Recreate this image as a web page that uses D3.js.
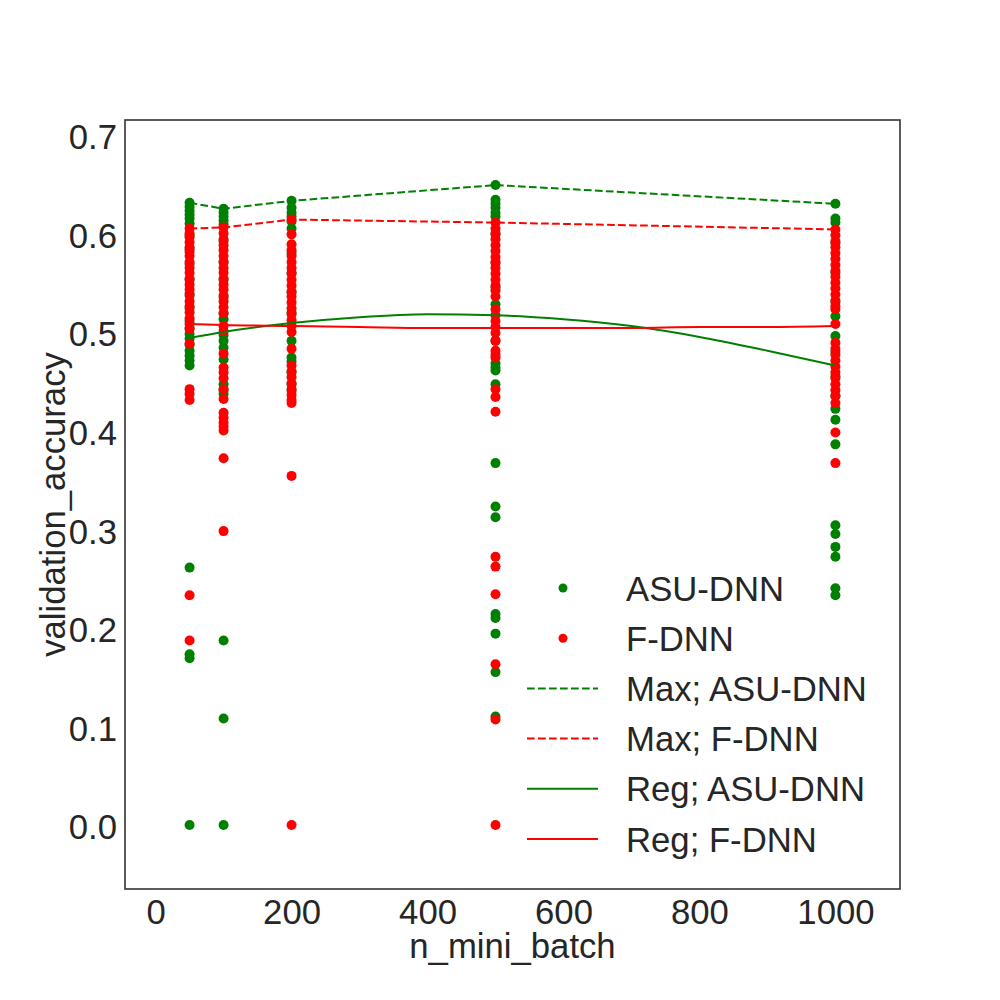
<!DOCTYPE html>
<html>
<head>
<meta charset="utf-8">
<script src="https://cdn.jsdelivr.net/npm/d3@7"></script>
<style>
  body { margin: 0; background: #fff; }
  text { font-family: "Liberation Sans", Arial, sans-serif; fill: #262626; }
</style>
</head>
<body>
<svg width="1000" height="1000"></svg>
<script>
// batch sizes on the x axis
var batchSizes = [50, 100, 200, 500, 1000];

// validation accuracy per batch size
var asuAcc = [
  [0.631,0.627,0.623,0.619,0.615,0.610,0.598,0.584,0.569,0.553,0.539,0.524,0.511,0.504,0.498,0.493,0.487,0.481,0.476,0.471,0.466,0.261,0.173,0.169,0.0],
  [0.625,0.621,0.617,0.613,0.609,0.592,0.571,0.553,0.535,0.519,0.513,0.497,0.491,0.484,0.472,0.447,0.441,0.437,0.187,0.108,0.0],
  [0.633,0.626,0.621,0.617,0.612,0.605,0.580,0.560,0.540,0.520,0.491,0.474,0.470,0.459,0.447,0.440],
  [0.649,0.634,0.630,0.626,0.621,0.617,0.600,0.570,0.545,0.528,0.491,0.468,0.464,0.461,0.447,0.367,0.323,0.312,0.214,0.210,0.194,0.155,0.110],
  [0.630,0.615,0.611,0.590,0.560,0.530,0.516,0.496,0.480,0.455,0.435,0.422,0.411,0.386,0.304,0.295,0.282,0.272,0.240,0.233]
];
var fdnnAcc = [
  [0.605,0.600,0.596,0.591,0.586,0.581,0.577,0.571,0.565,0.560,0.554,0.548,0.543,0.537,0.531,0.526,0.520,0.514,0.508,0.503,0.488,0.442,0.437,0.431,0.233,0.187],
  [0.606,0.600,0.594,0.588,0.583,0.577,0.571,0.565,0.560,0.554,0.548,0.543,0.537,0.531,0.525,0.519,0.506,0.501,0.478,0.464,0.459,0.453,0.442,0.432,0.418,0.413,0.408,0.404,0.400,0.372,0.298],
  [0.614,0.599,0.589,0.583,0.577,0.571,0.565,0.559,0.553,0.547,0.541,0.536,0.530,0.524,0.518,0.512,0.506,0.500,0.483,0.466,0.460,0.454,0.448,0.442,0.436,0.431,0.428,0.354,0.0],
  [0.611,0.605,0.599,0.594,0.588,0.582,0.576,0.571,0.565,0.559,0.553,0.547,0.542,0.536,0.523,0.517,0.511,0.505,0.499,0.491,0.481,0.477,0.474,0.442,0.434,0.419,0.272,0.262,0.234,0.163,0.107,0.0],
  [0.604,0.598,0.592,0.586,0.580,0.574,0.568,0.562,0.556,0.550,0.544,0.538,0.532,0.526,0.523,0.508,0.489,0.483,0.477,0.471,0.465,0.459,0.453,0.447,0.441,0.435,0.428,0.398,0.367]
];

// regression curves
var regX = [50, 100, 200, 300, 400, 500, 600, 700, 800, 900, 1000];
var regAsu = [0.494, 0.500, 0.509, 0.515, 0.518, 0.517, 0.513, 0.506, 0.495, 0.481, 0.466];
var regFdnn = [0.508, 0.507, 0.506, 0.505, 0.504, 0.504, 0.504, 0.504, 0.505, 0.505, 0.506];

var xTicks = [0, 200, 400, 600, 800, 1000];
var yTicks = [0.0, 0.1, 0.2, 0.3, 0.4, 0.5, 0.6, 0.7];

var svg = d3.select('svg'),
    mLeft = 125, mRight = 900, mTop = 120, mBottom = 889;

var x = d3.scaleLinear().domain([-45, 1095]).range([mLeft, mRight]),
    y = d3.scaleLinear().domain([-0.065, 0.715]).range([mBottom, mTop]);

function flatten(acc) {
  var out = [];
  acc.forEach(function(col, i) {
    col.forEach(function(v) { out.push({x: batchSizes[i], y: v}); });
  });
  return out;
}

var g = svg.append('g');

// scatter
g.selectAll('circle.asu')
  .data(flatten(asuAcc))
  .enter().append('circle')
  .attr('class', 'asu')
  .attr('cx', function(d) { return x(d.x); })
  .attr('cy', function(d) { return y(d.y); })
  .attr('r', 5)
  .attr('fill', 'green');

g.selectAll('circle.fdnn')
  .data(flatten(fdnnAcc))
  .enter().append('circle')
  .attr('class', 'fdnn')
  .attr('cx', function(d) { return x(d.x); })
  .attr('cy', function(d) { return y(d.y); })
  .attr('r', 5)
  .attr('fill', 'red');

// max lines
var line = d3.line()
  .x(function(d) { return x(d[0]); })
  .y(function(d) { return y(d[1]); });

var maxAsu = batchSizes.map(function(b, i) { return [b, d3.max(asuAcc[i])]; }),
    maxFdnn = batchSizes.map(function(b, i) { return [b, d3.max(fdnnAcc[i])]; });

g.append('path').attr('d', line(maxAsu))
  .attr('fill', 'none').attr('stroke', 'green').attr('stroke-width', 2)
  .attr('stroke-dasharray', '7.7,3.3');
g.append('path').attr('d', line(maxFdnn))
  .attr('fill', 'none').attr('stroke', 'red').attr('stroke-width', 2)
  .attr('stroke-dasharray', '7.7,3.3');

// regression curves
var curve = d3.line()
  .x(function(d) { return x(d[0]); })
  .y(function(d) { return y(d[1]); })
  .curve(d3.curveMonotoneX);

g.append('path').attr('d', curve(regX.map(function(v, i) { return [v, regAsu[i]]; })))
  .attr('fill', 'none').attr('stroke', 'green').attr('stroke-width', 2);
g.append('path').attr('d', curve(regX.map(function(v, i) { return [v, regFdnn[i]]; })))
  .attr('fill', 'none').attr('stroke', 'red').attr('stroke-width', 2);

// frame
svg.append('rect')
  .attr('x', mLeft).attr('y', mTop)
  .attr('width', mRight - mLeft).attr('height', mBottom - mTop)
  .attr('fill', 'none').attr('stroke', '#333').attr('stroke-width', 1.6);

// axes (no tick marks, seaborn-white look)
var xAxis = svg.append('g')
  .attr('transform', 'translate(0,' + mBottom + ')')
  .call(d3.axisBottom(x).tickValues(xTicks).tickFormat(d3.format('d')).tickSize(0).tickPadding(8));
var yAxis = svg.append('g')
  .attr('transform', 'translate(' + mLeft + ',0)')
  .call(d3.axisLeft(y).tickValues(yTicks).tickFormat(d3.format('.1f')).tickSize(0).tickPadding(8));

[xAxis, yAxis].forEach(function(a) {
  a.select('.domain').remove();
  a.selectAll('text').attr('font-size', 34.7).attr('fill', '#262626')
    .style('font-family', '"Liberation Sans", Arial, sans-serif');
});
yAxis.selectAll('text').attr('dy', '0.40em');
xAxis.selectAll('text').attr('dy', '0.78em');

svg.append('text')
  .attr('x', (mLeft + mRight) / 2).attr('y', 958)
  .attr('text-anchor', 'middle').attr('font-size', 34.7)
  .text('n_mini_batch');

svg.append('text')
  .attr('transform', 'translate(65,' + (mTop + mBottom) / 2 + ') rotate(-90)')
  .attr('text-anchor', 'middle').attr('font-size', 34.7)
  .text('validation_accuracy');

// legend
var legendItems = [
  {label: 'ASU-DNN', color: 'green', kind: 'dot'},
  {label: 'F-DNN', color: 'red', kind: 'dot'},
  {label: 'Max; ASU-DNN', color: 'green', kind: 'dash'},
  {label: 'Max; F-DNN', color: 'red', kind: 'dash'},
  {label: 'Reg; ASU-DNN', color: 'green', kind: 'line'},
  {label: 'Reg; F-DNN', color: 'red', kind: 'line'}
];

var legend = svg.append('g').attr('class', 'legend');
var rows = legend.selectAll('g')
  .data(legendItems)
  .enter().append('g')
  .attr('transform', function(d, i) { return 'translate(0,' + (588 + i * 50.2) + ')'; });

rows.filter(function(d) { return d.kind === 'dot'; })
  .append('circle')
  .attr('cx', 563).attr('cy', 0).attr('r', 4.5)
  .attr('fill', function(d) { return d.color; });

rows.filter(function(d) { return d.kind !== 'dot'; })
  .append('line')
  .attr('x1', 527).attr('x2', 598).attr('y1', 0).attr('y2', 0)
  .attr('stroke', function(d) { return d.color; })
  .attr('stroke-width', 2)
  .attr('stroke-dasharray', function(d) { return d.kind === 'dash' ? '7.7,3.3' : null; });

rows.append('text')
  .attr('x', 626).attr('y', 0).attr('dy', '0.36em')
  .attr('font-size', 34.7)
  .text(function(d) { return d.label; });
</script>
</body>
</html>
